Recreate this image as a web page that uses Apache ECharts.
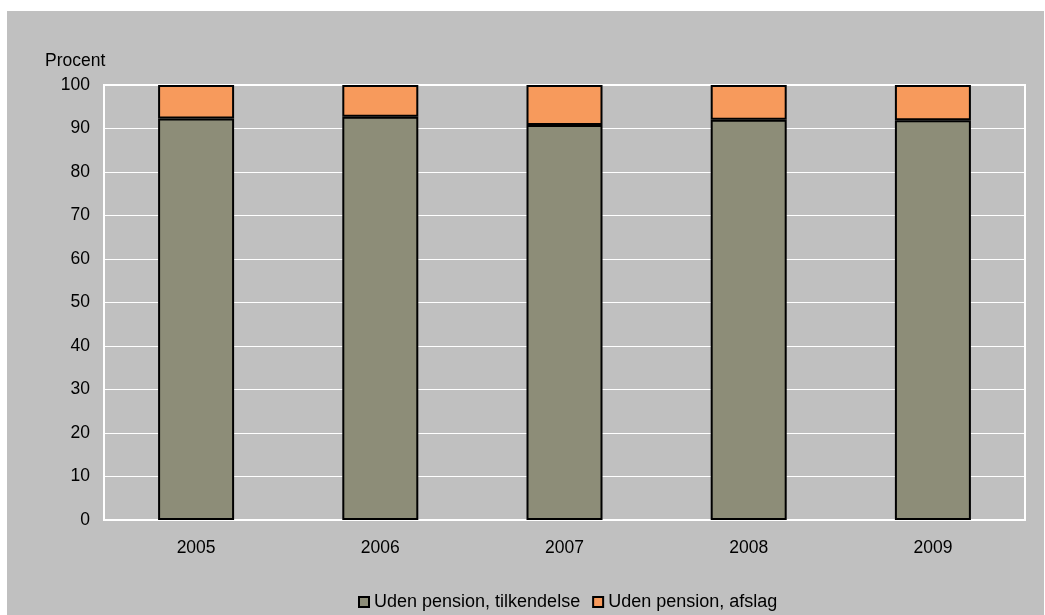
<!DOCTYPE html>
<html>
<head>
<meta charset="utf-8">
<script src="https://cdn.jsdelivr.net/npm/echarts@6/dist/echarts.min.js"></script>
<style>
html,body{margin:0;padding:0;background:#fff;}
#c{width:1045px;height:615px;}
</style>
</head>
<body>
<div id="c"></div>
<script>
const categories = ['2005', '2006', '2007', '2008', '2009'];
const tilkendelse = [92.3, 92.7, 90.8, 92.0, 91.9];
const afslag = [7.7, 7.3, 9.2, 8.0, 8.1];
const seriesNames = ['Uden pension, tilkendelse', 'Uden pension, afslag'];
const yTitle = 'Procent';

const FONT = '"Liberation Sans", Arial, sans-serif';
const chart = echarts.init(document.getElementById('c'), null, {renderer: 'canvas'});
chart.setOption({
  backgroundColor: '#ffffff',
  animation: false,
  graphic: [
    {type: 'rect', z: -10, shape: {x: 7, y: 11, width: 1037, height: 604}, style: {fill: '#c0c0c0'}},
    {type: 'text', left: 45, top: 52, style: {text: yTitle, font: '17.5px ' + FONT, fill: '#000'}}
  ],
  grid: {left: 104, right: 20, top: 85, bottom: 95, show: true, borderColor: '#ffffff', borderWidth: 2, backgroundColor: 'transparent'},
  legend: {
    left: 353, top: 588, itemWidth: 10, itemHeight: 10, itemGap: 12, icon: 'rect',
    textStyle: {fontSize: 18, fontFamily: FONT, color: '#000'},
    data: seriesNames
  },
  xAxis: {
    type: 'category', data: categories,
    axisLine: {show: true, lineStyle: {color: '#ffffff', width: 2}},
    axisTick: {show: false},
    axisLabel: {fontSize: 17.5, fontFamily: FONT, color: '#000', margin: 19}
  },
  yAxis: {
    type: 'value', min: 0, max: 100, interval: 10,
    axisLine: {show: false},
    axisTick: {show: false},
    splitLine: {lineStyle: {color: '#ffffff', width: 1}},
    axisLabel: {fontSize: 17.5, fontFamily: FONT, color: '#000', margin: 14}
  },
  series: [
    {name: seriesNames[0], type: 'bar', stack: 'a', data: tilkendelse, barWidth: 76,
     itemStyle: {color: '#8d8d78', borderColor: '#000', borderWidth: 2}},
    {name: seriesNames[1], type: 'bar', stack: 'a', data: afslag, barWidth: 76,
     itemStyle: {color: '#f79a5c', borderColor: '#000', borderWidth: 2}}
  ]
});
</script>
</body>
</html>
